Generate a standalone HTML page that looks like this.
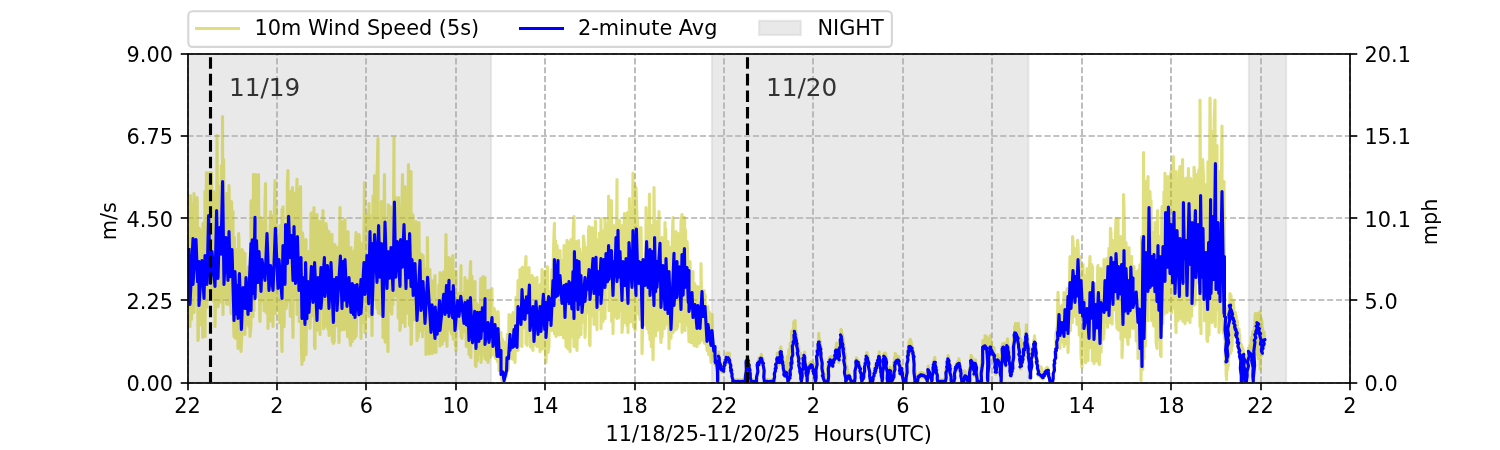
<!DOCTYPE html>
<html lang="en"><head><meta charset="utf-8"><title>10m Wind Speed</title>
<style>html,body{margin:0;padding:0;background:#fff;}body{width:1500px;height:450px;overflow:hidden;}svg text{font-family:"DejaVu Sans", "Liberation Sans", sans-serif;}</style>
</head><body>
<svg width="1500" height="450" viewBox="0 0 1500 450" style="display:block;will-change:transform" font-family='"DejaVu Sans", "Liberation Sans", sans-serif' font-size="20.833px">
<rect x="0" y="0" width="1500" height="450" fill="#fff"/>
<clipPath id="ax"><rect x="187.5" y="54.0" width="1162.5" height="328.5"/></clipPath>
<g clip-path="url(#ax)">
<rect x="187.5" y="54.0" width="303.5" height="328.5" fill="#d3d3d3" fill-opacity="0.5" stroke="#d3d3d3" stroke-opacity="0.5" stroke-width="2.08"/>
<rect x="711.9" y="54.0" width="316.5000000000001" height="328.5" fill="#d3d3d3" fill-opacity="0.5" stroke="#d3d3d3" stroke-opacity="0.5" stroke-width="2.08"/>
<rect x="1248.9" y="54.0" width="37.19999999999982" height="328.5" fill="#d3d3d3" fill-opacity="0.5" stroke="#d3d3d3" stroke-opacity="0.5" stroke-width="2.08"/>
</g>
<g stroke="#b0b0b0" stroke-width="1.667" stroke-dasharray="6.167 2.667" fill="none">
<path d="M188 382.5V54.0"/>
<path d="M277 382.5V54.0"/>
<path d="M366 382.5V54.0"/>
<path d="M456 382.5V54.0"/>
<path d="M545 382.5V54.0"/>
<path d="M635 382.5V54.0"/>
<path d="M724 382.5V54.0"/>
<path d="M813 382.5V54.0"/>
<path d="M903 382.5V54.0"/>
<path d="M992 382.5V54.0"/>
<path d="M1082 382.5V54.0"/>
<path d="M1171 382.5V54.0"/>
<path d="M1261 382.5V54.0"/>
<path d="M1350 382.5V54.0"/>
<path d="M187.5 383H1350.0"/>
<path d="M187.5 300H1350.0"/>
<path d="M187.5 218H1350.0"/>
<path d="M187.5 136H1350.0"/>
<path d="M187.5 54H1350.0"/>
</g>
<g clip-path="url(#ax)" fill="none" stroke-linejoin="round" stroke-linecap="square" stroke-width="3.125">
<path stroke="#bfbf00" stroke-opacity="0.5" d="M186.0 223.0L187.1 305.2 188.4 252.0 189.0 203.6 189.5 310.3 190.0 195.6 190.0 326.4 190.5 195.8 191.6 319.3 192.6 204.0 193.7 311.1 194.0 193.6 194.0 312.4 194.8 220.4 195.9 294.7 197.0 197.6 197.2 200.3 198.0 340.4 198.3 337.8 199.2 228.2 200.0 231.6 200.3 324.7 201.6 243.2 202.7 337.3 203.0 223.6 203.4 261.6 204.5 312.0 205.0 191.6 205.0 336.4 205.8 224.4 206.5 172.6 206.9 307.2 208.0 173.1 208.0 290.4 208.0 212.9 209.1 282.0 209.8 172.6 210.4 207.8 211.5 290.4 211.5 172.6 212.0 290.4 212.3 210.9 213.4 301.1 213.5 191.6 214.7 229.0 215.0 326.4 215.8 290.8 216.9 183.3 217.0 135.6 218.0 306.8 219.0 300.4 219.1 213.6 219.5 186.6 220.2 301.9 221.3 165.8 222.4 282.0 222.5 116.6 223.0 314.4 223.6 159.6 224.7 296.7 225.5 222.4 226.0 193.6 226.6 303.9 227.8 193.4 228.0 304.4 228.9 295.9 229.0 185.6 229.9 240.6 231.0 313.5 231.5 201.6 232.0 230.1 233.0 211.6 233.1 307.9 234.0 336.4 234.3 237.2 235.4 338.3 236.0 249.6 236.8 286.0 237.9 331.1 238.0 348.4 238.6 233.6 238.9 239.1 240.0 338.7 240.8 263.1 241.0 351.4 241.9 332.9 242.0 249.6 243.2 252.3 244.3 334.0 245.0 253.6 245.0 334.4 245.4 289.0 246.5 324.2 247.6 277.3 248.6 266.6 248.7 326.3 249.9 266.1 250.0 336.4 251.0 325.0 251.0 201.6 251.9 200.5 253.0 316.8 253.5 174.6 254.0 310.4 254.4 218.7 255.0 174.6 255.5 278.2 256.4 211.9 256.8 175.1 257.5 296.5 258.5 174.6 258.7 209.8 259.8 319.3 260.0 321.4 260.9 258.4 261.0 217.6 262.0 301.2 262.9 221.7 264.0 308.3 264.0 310.4 265.0 205.8 265.5 183.6 266.1 312.4 267.4 232.8 268.0 328.4 268.5 303.5 269.7 249.6 270.5 211.6 270.8 321.0 271.9 215.7 273.0 326.4 273.0 323.5 274.1 225.0 275.0 180.6 275.2 313.5 276.0 206.7 277.1 308.0 278.0 304.4 278.6 234.6 279.7 322.7 280.0 225.6 280.7 255.2 281.8 346.6 282.0 209.6 282.0 351.4 283.0 206.8 284.1 326.6 285.0 231.4 286.1 308.5 287.0 300.4 287.4 181.9 288.0 170.6 288.5 300.3 289.2 236.9 290.3 316.2 290.5 191.6 291.4 209.1 292.5 187.6 292.5 311.5 293.0 337.4 293.6 207.7 294.5 193.6 294.7 296.6 295.9 223.3 297.0 179.2 297.0 314.4 297.0 311.7 298.1 208.6 299.0 189.6 299.2 321.5 300.3 231.2 300.5 186.6 301.4 346.1 302.0 364.4 302.6 233.1 303.0 239.6 303.7 359.9 304.6 262.0 305.7 354.7 306.0 239.6 306.0 354.4 307.0 264.9 308.0 251.6 308.1 321.4 309.1 277.1 310.0 328.4 310.2 322.7 311.0 213.6 311.5 213.0 312.6 315.5 313.4 226.8 314.0 207.6 314.5 345.8 315.0 348.4 315.7 241.9 316.8 330.2 317.0 214.6 318.2 239.7 319.3 312.7 320.0 221.6 320.0 334.4 320.2 222.0 321.3 309.1 322.5 237.1 323.0 210.6 323.6 328.6 324.7 224.1 325.0 326.4 325.8 320.4 326.0 223.6 326.8 229.9 327.9 329.2 328.9 269.8 329.0 231.6 329.0 335.4 330.0 320.9 331.2 238.0 332.0 234.6 332.3 341.3 333.2 253.0 333.4 343.4 334.3 341.4 335.0 244.6 335.7 274.1 336.8 325.8 337.0 247.6 338.0 265.4 339.0 342.4 339.1 335.2 340.0 207.6 340.1 232.7 341.2 329.9 342.0 256.0 343.0 221.6 343.1 303.8 344.0 329.4 344.3 235.9 345.0 219.6 345.4 329.2 346.5 249.6 347.6 336.6 348.0 231.6 348.6 269.6 349.7 337.8 350.6 345.4 351.0 247.6 351.1 272.0 352.2 341.5 353.0 251.6 353.3 270.6 354.4 338.6 355.3 248.5 356.0 232.6 356.0 336.4 356.4 327.6 357.7 253.1 358.8 312.3 359.0 234.6 359.9 248.6 361.0 338.4 361.0 329.5 361.9 270.3 362.0 243.6 363.0 322.8 364.3 203.3 364.5 182.6 365.0 332.4 365.4 326.9 366.6 214.7 367.7 311.0 368.5 236.4 369.0 203.6 369.0 316.4 369.6 302.5 370.8 216.1 371.9 321.4 372.0 335.4 373.1 195.8 374.2 297.1 374.5 175.6 375.2 225.1 376.2 181.6 376.3 300.7 377.0 308.4 377.2 172.9 378.0 138.6 378.3 313.1 379.7 227.7 380.8 314.3 381.5 201.6 381.9 240.6 383.0 327.7 383.0 337.4 384.1 200.8 384.5 174.6 385.2 341.9 386.3 235.5 387.4 333.9 388.0 351.4 388.3 204.7 389.0 207.6 389.4 311.1 390.7 206.8 391.8 314.1 392.9 219.1 393.0 304.4 394.0 137.6 394.0 294.7 395.2 196.7 396.3 296.4 397.1 210.1 398.2 318.0 398.5 197.6 399.2 227.1 400.0 330.4 400.3 327.4 401.7 219.9 402.5 174.6 402.8 322.5 403.7 210.3 404.8 315.4 405.0 186.6 405.0 326.4 406.0 200.0 407.1 313.0 408.4 171.8 408.5 164.6 409.5 325.3 410.4 182.2 411.0 171.6 411.0 344.4 411.5 343.6 412.5 214.5 413.0 215.6 413.6 320.0 414.8 234.7 415.9 313.6 416.0 221.6 417.0 340.4 417.1 275.1 418.2 337.2 419.0 222.6 419.0 233.5 420.1 330.9 421.0 330.4 421.4 254.1 422.5 336.7 423.0 255.6 423.5 263.3 424.6 328.8 425.9 268.9 426.0 354.4 427.0 329.0 427.4 237.6 428.1 292.2 429.2 353.9 430.0 269.6 430.2 301.4 431.3 351.1 432.0 353.4 432.3 280.8 433.4 352.3 434.6 279.9 435.0 275.6 435.7 347.9 436.0 352.4 436.7 303.3 437.8 332.2 438.9 284.9 440.0 345.9 440.0 272.6 441.0 344.4 441.1 291.8 442.2 344.3 443.0 275.6 443.4 272.1 444.5 340.1 445.4 281.7 446.0 234.6 446.5 338.4 447.0 346.4 447.9 258.3 449.0 257.6 449.0 329.0 450.0 269.9 451.1 332.4 452.0 334.4 452.1 259.1 453.0 255.6 453.2 338.9 454.2 272.1 455.3 345.1 456.0 271.6 456.0 350.4 456.7 296.9 457.8 325.0 458.7 293.4 459.8 328.6 460.9 276.2 461.0 265.6 461.0 336.4 462.0 338.3 463.1 292.7 464.2 331.4 465.0 277.6 465.2 286.7 466.3 346.5 467.8 280.8 468.9 340.4 469.0 354.4 469.7 283.9 470.6 261.6 470.8 357.5 471.9 275.8 473.0 343.8 474.3 286.3 475.0 281.6 475.4 364.9 476.0 366.4 476.4 303.5 477.5 360.4 478.5 305.3 479.6 353.5 480.8 278.5 481.0 362.4 481.9 353.7 483.0 276.6 483.2 298.7 484.3 350.5 485.0 277.6 485.0 348.4 485.0 358.4 485.2 305.0 486.3 359.7 487.5 298.1 488.0 290.6 488.0 362.4 488.6 359.7 489.4 290.3 490.5 357.3 491.9 305.4 492.0 288.6 492.0 354.4 493.0 354.7 494.1 308.3 495.0 312.6 495.2 357.4 496.0 358.4 496.3 323.2 497.4 361.1 498.0 311.6 498.5 320.4 499.0 370.4 499.6 370.6 500.5 340.0 501.0 332.6 501.6 375.1 502.0 380.4 502.6 339.2 503.7 381.3 504.0 382.4 505.0 342.6 505.0 380.4 505.0 348.1 506.1 376.7 507.3 334.4 508.0 370.4 508.4 367.3 509.0 314.6 509.3 325.9 510.4 353.7 511.0 358.4 511.5 315.2 512.6 359.2 513.0 312.6 513.8 330.2 514.9 359.6 515.0 362.4 516.1 297.3 517.2 343.2 518.0 280.6 518.0 350.4 518.4 284.0 519.5 345.6 520.0 269.6 520.3 273.9 521.4 330.3 522.0 267.6 522.0 346.4 522.5 267.3 523.6 327.6 524.9 272.3 526.0 256.6 526.0 343.3 527.0 345.4 527.1 287.4 528.2 334.5 529.0 267.6 529.3 289.6 530.4 346.9 531.6 277.4 532.0 275.6 532.7 349.8 533.0 350.4 533.8 277.9 534.9 344.8 535.9 282.9 537.0 277.6 537.0 346.4 537.0 339.7 538.1 297.8 539.2 332.1 540.0 351.4 540.2 284.6 541.3 349.7 542.0 269.6 542.5 301.4 543.0 348.4 543.6 340.5 544.5 291.7 545.0 271.6 545.6 355.4 546.0 362.4 546.9 287.7 547.4 266.6 548.0 352.5 549.0 346.4 549.1 291.3 550.2 321.7 551.3 288.1 552.0 269.6 552.0 330.4 552.4 322.1 553.4 252.7 554.4 223.2 554.5 333.7 555.6 240.7 556.0 336.4 556.7 315.5 557.0 245.6 557.8 258.4 558.9 335.0 559.8 263.3 560.0 250.6 560.9 334.3 561.0 334.4 562.0 261.6 562.3 260.7 563.4 337.6 564.0 245.6 564.4 257.7 565.5 320.9 566.0 346.4 566.6 265.4 567.0 240.2 567.7 348.5 568.8 243.5 569.9 326.3 570.0 241.6 570.0 351.4 571.1 239.5 572.2 336.9 573.2 230.1 574.0 216.6 574.0 346.4 574.3 346.6 575.5 243.4 576.0 241.6 576.6 340.5 577.0 350.4 577.8 286.1 578.6 240.6 578.9 337.3 579.8 248.9 580.9 328.3 581.0 257.6 581.0 334.4 581.9 253.5 583.0 321.9 583.4 236.0 584.3 243.6 585.0 337.4 585.4 326.5 586.0 247.6 586.6 257.5 587.7 313.0 588.5 230.4 589.0 226.6 589.6 343.8 590.0 345.4 590.9 243.0 592.0 315.8 592.0 227.6 593.1 229.0 594.0 324.4 594.2 320.2 595.4 227.7 595.4 221.0 596.5 312.2 597.0 329.4 597.2 264.9 598.0 239.6 598.3 309.4 599.4 233.0 600.5 300.2 601.0 218.6 601.0 328.4 602.0 242.0 603.1 321.2 603.8 230.5 604.9 313.0 605.0 218.6 605.0 318.4 606.1 224.5 607.2 287.9 608.4 235.1 608.6 196.0 609.0 310.4 609.5 285.5 610.6 202.7 611.4 200.6 611.7 321.2 612.9 262.1 613.0 333.4 614.0 225.6 614.0 304.8 614.9 257.3 616.0 316.9 617.0 179.6 617.0 318.4 617.4 219.2 618.5 317.8 619.3 220.2 619.4 221.6 620.4 310.9 621.7 251.0 622.0 225.6 622.0 332.4 622.8 323.9 623.6 240.6 624.4 213.6 624.7 317.6 625.0 322.4 626.0 247.7 627.1 325.4 627.4 212.6 628.0 332.4 628.0 213.8 629.1 322.6 629.4 198.6 630.3 249.0 631.4 321.5 632.0 320.4 632.5 232.7 633.0 173.2 633.6 326.9 634.9 185.9 635.0 330.4 636.0 305.2 636.0 187.6 637.0 217.3 638.0 229.6 638.1 310.5 639.0 314.4 639.0 229.1 640.1 319.5 641.0 227.6 641.6 267.6 642.0 353.4 642.7 326.2 643.8 264.8 644.9 324.5 645.0 324.4 646.0 260.7 646.0 207.6 647.1 328.8 647.9 230.2 649.0 333.5 649.4 194.0 650.0 339.4 650.2 238.9 651.3 346.5 651.4 225.6 652.3 249.9 653.0 359.4 653.4 331.8 654.0 187.6 654.4 224.4 655.5 336.0 656.6 221.6 656.6 268.2 657.0 330.4 657.7 329.3 659.0 211.6 659.0 238.2 660.1 327.2 661.0 342.4 661.0 240.8 662.0 237.6 662.1 336.9 663.3 249.2 664.4 328.6 665.0 222.6 665.0 326.4 665.7 229.1 666.8 323.4 667.8 268.6 668.0 241.6 668.9 331.8 669.0 348.4 669.9 272.6 670.0 247.6 671.0 338.2 672.3 240.8 673.0 217.6 673.0 332.4 673.4 319.8 674.3 262.7 675.4 330.0 676.0 231.6 676.6 260.6 677.0 328.4 677.7 324.8 678.6 233.6 678.7 241.4 679.8 321.3 681.0 221.2 682.0 214.6 682.0 332.4 682.1 330.3 683.3 218.5 684.4 327.2 684.6 217.6 685.0 330.4 685.4 229.5 686.5 324.8 687.0 241.6 687.6 252.2 688.7 332.2 689.0 341.4 689.9 271.9 690.0 261.6 691.0 342.6 692.1 299.0 693.0 271.6 693.2 335.2 694.0 345.4 694.1 283.0 695.0 284.6 695.2 345.7 696.3 308.7 697.0 346.4 697.4 330.9 698.0 286.6 698.4 299.3 699.5 343.2 701.0 291.6 701.0 263.6 702.1 340.2 703.0 340.4 703.2 291.2 704.0 290.6 704.3 343.1 705.1 294.9 706.2 335.4 707.0 350.4 707.6 319.8 708.0 306.6 708.7 354.4 709.5 312.2 710.6 356.3 711.0 362.4 711.8 315.3 712.0 314.6 712.9 351.8 715.0 364.4 715.0 359.0 715.5 363.7 715.9 356.3 716.4 364.4 716.8 357.3 716.9 364.1 717.3 368.4 717.6 382.4 717.7 377.0 718.2 371.2 718.6 351.9 718.7 358.4 719.1 355.9 719.5 365.4 720.0 362.0 720.4 370.8 720.4 364.8 720.9 371.5 721.3 367.5 721.8 372.1 722.2 366.8 722.7 371.4 723.1 366.9 723.1 372.0 723.6 364.7 724.0 368.9 724.5 362.3 724.9 365.3 724.9 361.1 725.4 364.6 725.8 358.7 726.3 363.6 726.7 354.1 726.7 362.8 727.2 353.1 727.6 362.4 728.1 355.0 728.5 361.4 729.0 353.0 729.3 360.7 729.4 353.8 729.9 365.6 730.3 362.5 730.8 369.6 731.1 368.0 731.2 373.4 731.7 371.1 732.1 377.7 732.6 377.4 732.9 382.1 733.0 380.4 733.5 382.3 733.9 380.6 734.4 382.4 734.8 380.3 735.3 382.2 735.7 379.8 736.2 382.3 736.6 380.1 737.1 382.3 737.5 379.7 738.0 381.9 738.4 380.7 738.9 382.5 739.3 380.6 739.8 382.3 740.2 379.7 740.7 382.1 741.1 379.9 741.6 382.2 742.0 380.4 742.5 382.3 742.9 379.7 743.4 382.1 743.8 380.2 744.3 382.0 744.7 379.8 745.2 382.1 745.3 380.5 745.6 378.9 746.1 366.6 746.5 366.1 746.6 356.2 747.0 364.9 747.4 356.0 747.9 364.5 748.0 357.2 748.3 365.5 748.8 361.0 749.2 370.1 749.7 366.2 749.8 372.1 750.1 370.5 750.6 378.7 751.0 379.7 751.0 382.3 751.5 380.6 751.9 382.4 752.4 380.0 752.8 382.2 753.3 379.7 753.7 381.9 754.2 380.0 754.6 382.5 755.1 380.3 755.5 382.1 756.0 380.1 756.4 382.0 756.5 379.7 756.9 378.8 757.3 369.1 757.8 367.1 757.8 361.7 758.2 366.8 758.7 358.9 759.1 365.3 759.6 357.3 759.6 363.4 760.0 357.5 760.5 362.3 760.9 356.1 761.3 362.1 761.4 354.3 761.8 362.8 762.3 357.2 762.7 365.5 763.1 359.1 763.2 365.9 763.6 366.7 764.1 378.8 764.4 376.1 764.5 382.0 765.0 378.8 765.4 382.1 765.9 379.8 766.3 382.4 766.8 380.1 767.2 382.2 767.7 379.6 768.1 382.0 768.6 379.8 769.0 382.1 769.5 380.2 769.9 382.4 770.4 380.4 770.8 382.0 771.3 380.0 771.7 382.0 772.2 379.7 772.6 382.5 773.1 380.3 773.5 382.4 773.8 380.1 774.0 381.4 774.4 374.4 774.9 375.2 775.3 368.1 775.6 371.5 775.8 363.4 776.2 366.8 776.7 359.5 777.1 361.5 777.3 353.0 777.6 362.1 778.0 354.4 778.5 364.0 778.9 356.6 779.1 365.1 779.4 353.8 779.8 361.5 780.3 348.3 780.7 356.8 780.9 346.7 781.2 356.9 781.6 353.1 782.1 361.4 782.5 356.3 782.7 365.1 783.0 358.0 783.4 370.2 783.9 362.8 784.3 376.5 784.4 371.6 784.8 376.8 785.2 370.1 785.7 374.8 786.1 364.5 786.2 373.6 786.6 361.2 787.0 378.1 787.5 356.4 787.9 382.3 788.0 368.2 788.4 382.1 788.8 349.8 789.3 380.0 789.7 353.5 789.8 378.7 790.2 343.3 790.6 373.5 791.1 349.1 791.5 367.2 791.6 331.3 792.0 362.5 792.4 330.6 792.9 350.3 793.3 328.0 793.3 346.8 793.8 321.8 794.2 340.2 794.7 321.4 794.8 338.1 795.1 320.5 795.6 343.3 796.0 331.3 796.5 347.5 796.5 334.9 796.9 352.3 797.4 342.2 797.8 358.4 798.3 349.1 798.7 364.4 798.7 346.0 799.2 367.1 799.6 352.8 800.1 373.6 800.5 353.3 801.0 379.9 801.3 360.0 801.4 382.2 801.9 361.1 802.3 373.7 802.8 360.3 803.1 365.5 803.2 357.3 803.7 363.8 804.1 354.5 804.4 359.5 804.6 352.1 805.0 365.0 805.5 361.1 805.8 371.2 805.9 366.2 806.4 375.9 806.8 372.9 807.2 381.7 807.3 373.8 807.7 377.9 808.2 368.2 808.4 371.4 808.6 364.7 809.1 369.7 809.5 363.3 810.0 369.0 810.2 363.8 810.4 369.8 810.9 361.8 811.3 367.9 811.8 362.1 812.0 368.2 812.2 363.4 812.7 370.6 813.1 366.1 813.6 373.8 813.8 369.7 814.0 375.6 814.5 366.1 814.9 378.9 815.4 363.8 815.6 382.1 815.8 364.5 816.3 372.7 816.7 352.7 817.2 360.1 817.3 347.9 817.6 356.7 818.1 341.5 818.5 350.0 818.8 333.2 819.0 347.1 819.4 339.1 819.9 351.4 820.3 341.3 820.5 354.1 820.8 346.0 821.2 360.7 821.7 360.4 822.1 371.5 822.6 368.6 822.7 376.6 823.0 366.5 823.5 379.4 823.9 374.6 824.4 382.1 824.4 374.6 824.8 382.2 825.3 380.0 825.7 382.5 826.2 374.6 826.6 382.5 827.1 373.9 827.5 382.1 828.0 362.6 828.0 382.1 828.4 364.7 828.9 371.9 829.2 359.2 829.3 365.6 829.8 357.2 830.2 364.1 830.7 357.4 830.7 362.7 831.1 356.6 831.6 366.0 832.0 358.9 832.4 366.9 832.5 362.0 832.9 365.7 833.4 358.3 833.8 364.0 834.2 355.2 834.3 362.2 834.7 352.2 835.2 359.5 835.6 348.2 836.1 355.5 836.5 343.0 836.5 355.1 837.0 344.9 837.4 358.5 837.9 352.6 838.3 360.9 838.7 351.3 838.8 362.4 839.2 343.5 839.7 354.3 840.1 341.0 840.6 346.0 841.0 329.4 841.0 342.8 841.5 330.1 841.9 346.5 842.4 334.4 842.8 352.2 843.1 337.6 843.3 354.2 843.7 341.7 844.2 364.6 844.6 347.0 845.1 374.2 845.5 354.1 845.8 382.3 846.0 368.2 846.4 381.1 846.9 366.2 847.3 379.7 847.6 369.7 847.8 379.0 848.2 373.0 848.7 377.4 849.1 373.8 849.3 376.9 849.6 374.3 850.0 379.1 850.5 377.2 850.9 381.4 851.1 380.4 851.4 382.5 851.8 379.8 852.3 382.3 852.7 380.3 853.2 382.5 853.6 380.7 854.1 382.4 854.5 379.1 854.7 382.1 855.0 373.7 855.4 373.5 855.9 360.2 856.1 365.2 856.3 357.7 856.8 364.2 857.2 359.5 857.7 365.6 857.9 360.0 858.1 366.4 858.6 362.2 859.0 367.3 859.5 362.8 859.9 369.9 860.0 365.9 860.4 372.9 860.8 372.5 861.3 378.9 861.7 379.0 861.8 382.3 862.2 379.3 862.6 380.3 863.1 376.3 863.5 378.8 863.6 373.7 864.0 376.5 864.4 367.2 864.9 369.6 865.3 358.9 865.3 366.7 865.8 355.9 866.2 362.7 866.7 352.9 866.8 360.6 867.1 352.5 867.6 362.4 868.0 355.8 868.5 366.3 868.5 360.8 868.9 368.3 869.4 369.7 869.8 378.2 870.3 377.3 870.3 382.4 870.7 378.0 871.2 382.3 871.6 380.6 872.1 382.0 872.4 379.9 872.5 382.5 873.0 378.3 873.4 378.3 873.9 373.3 874.3 375.9 874.8 369.1 875.1 372.3 875.2 367.0 875.7 371.4 876.1 363.4 876.6 369.1 876.9 360.4 877.0 367.9 877.5 360.9 877.9 365.3 878.4 356.3 878.8 361.0 879.2 351.7 879.3 360.7 879.7 356.2 880.2 367.5 880.6 366.3 881.0 373.8 881.1 368.4 881.5 376.8 882.0 370.0 882.2 382.2 882.4 365.2 882.9 374.9 883.3 360.8 883.8 363.3 884.0 353.4 884.2 361.2 884.7 354.9 885.1 361.8 885.6 353.0 885.8 362.1 886.0 355.6 886.5 368.8 886.9 367.2 887.4 380.2 887.6 371.4 887.8 382.0 888.3 375.3 888.7 382.4 889.2 380.1 889.3 382.1 889.6 375.1 890.0 371.5 890.1 367.0 890.5 375.1 891.0 374.4 891.4 379.9 891.8 376.2 891.9 382.3 892.3 370.7 892.8 380.2 893.2 368.5 893.6 379.3 893.7 362.6 894.1 375.1 894.6 357.2 895.0 368.0 895.3 353.4 895.5 365.2 895.9 354.6 896.4 364.9 896.8 355.7 897.1 363.0 897.3 356.4 897.7 364.6 898.2 358.8 898.6 364.0 898.9 356.6 899.1 364.9 899.5 363.0 900.0 372.0 900.3 371.1 900.4 374.6 900.9 368.2 901.3 371.6 901.6 364.8 901.8 372.4 902.2 370.9 902.7 378.5 903.1 377.8 903.3 382.5 903.6 380.3 904.0 382.5 904.5 378.4 904.9 382.4 905.4 372.8 905.8 382.0 906.0 370.8 906.3 379.2 906.7 366.6 907.2 367.0 907.6 353.2 907.8 360.5 908.1 349.1 908.5 357.0 909.0 342.3 909.4 349.9 909.6 340.4 909.9 351.5 910.3 339.2 910.8 350.9 911.2 341.5 911.7 353.4 911.7 345.0 912.1 352.4 912.6 348.7 913.0 356.8 913.5 351.0 913.5 360.3 913.9 360.3 914.4 374.3 914.8 370.9 914.9 382.5 915.3 370.6 915.7 382.2 916.2 376.5 916.6 382.2 917.1 380.4 917.5 382.1 917.6 380.1 918.0 380.2 918.4 375.0 918.4 377.6 918.9 375.0 919.3 378.1 919.8 373.1 920.2 377.3 920.7 372.4 921.1 377.0 921.1 372.9 921.6 377.1 922.0 372.3 922.5 376.6 922.9 372.7 923.4 377.6 923.8 374.6 923.8 377.1 924.3 373.6 924.7 378.2 925.2 373.9 925.6 377.5 925.6 375.2 926.1 379.6 926.5 377.1 927.0 381.5 927.3 374.4 927.4 381.6 927.9 368.1 928.2 372.3 928.3 366.1 928.8 372.3 929.2 370.2 929.7 374.7 930.0 372.0 930.1 376.5 930.6 373.7 931.0 378.9 931.5 378.6 931.8 382.3 931.9 376.5 932.4 376.9 932.8 370.5 933.3 370.6 933.6 361.7 933.7 367.8 934.2 359.6 934.6 365.9 934.8 357.2 935.1 367.3 935.5 363.1 936.0 370.9 936.2 367.6 936.4 374.3 936.9 369.5 937.3 380.1 937.6 378.0 937.8 382.3 938.2 377.4 938.7 382.3 939.1 380.7 939.6 382.0 940.0 380.6 940.5 382.4 940.9 379.8 941.4 382.0 941.8 380.4 942.3 382.0 942.7 379.9 943.2 382.4 943.6 379.8 944.1 382.0 944.5 378.7 945.0 382.4 945.4 375.5 945.5 382.4 945.9 369.0 946.3 374.8 946.8 362.4 946.9 369.8 947.2 359.8 947.7 366.0 948.1 355.5 948.3 362.9 948.6 356.8 949.0 366.2 949.5 361.3 949.7 369.1 949.9 364.3 950.4 374.6 950.8 374.5 951.3 381.8 951.3 379.4 951.7 382.1 952.2 379.7 952.6 382.1 953.1 380.0 953.5 382.2 954.0 379.7 954.0 382.3 954.4 376.2 954.9 375.2 955.3 367.5 955.4 371.4 955.8 365.8 956.2 369.8 956.7 363.7 957.1 367.9 957.2 362.0 957.6 367.0 958.0 362.3 958.5 366.1 958.9 358.9 959.0 366.2 959.4 360.6 959.8 369.4 960.3 367.7 960.4 373.0 960.7 370.6 961.2 377.6 961.6 377.7 961.8 382.0 962.1 380.0 962.5 382.4 963.0 378.8 963.4 382.1 963.8 374.4 963.9 382.3 964.3 370.9 964.8 378.4 965.0 371.2 965.2 377.1 965.7 374.2 966.1 377.7 966.4 374.1 966.6 378.9 967.0 377.3 967.5 380.8 967.9 377.4 967.9 382.0 968.4 375.7 968.8 382.2 969.3 369.4 969.6 382.4 969.7 367.5 970.2 375.3 970.6 360.3 970.9 363.8 971.1 355.4 971.5 364.9 972.0 357.3 972.4 365.5 972.7 360.4 972.9 367.0 973.3 364.0 973.8 371.9 974.2 368.0 974.4 376.0 974.7 368.2 975.1 369.7 975.6 359.8 975.7 366.8 976.0 365.4 976.5 374.3 976.9 375.7 977.1 382.1 977.4 378.3 977.8 382.0 978.3 377.0 978.7 382.4 979.2 374.3 979.6 382.5 980.1 371.0 980.5 382.4 981.0 367.3 981.4 382.1 981.6 360.0 981.9 374.5 982.3 354.8 982.8 352.8 982.8 340.5 983.2 353.3 983.7 342.6 984.1 350.2 984.6 341.2 985.0 350.0 985.1 335.6 985.5 350.3 985.9 338.8 986.4 351.9 986.8 336.8 986.9 351.8 987.3 338.9 987.7 379.4 987.8 353.4 988.2 375.9 988.6 346.8 989.1 361.5 989.2 342.5 989.5 355.4 990.0 338.1 990.4 352.9 990.4 335.3 990.9 352.9 991.3 342.1 991.8 353.9 992.2 348.5 992.2 354.7 992.7 349.5 993.1 357.6 993.6 347.4 994.0 356.5 994.0 348.1 994.5 361.9 994.9 358.7 995.4 369.7 995.8 358.3 995.8 374.2 996.3 355.5 996.7 367.5 997.2 357.2 997.6 362.7 997.6 354.6 998.1 364.5 998.5 358.7 999.0 364.8 999.3 360.0 999.4 365.4 999.9 359.0 1000.3 375.4 1000.8 357.6 1001.1 382.4 1001.2 353.9 1001.7 370.0 1002.1 345.7 1002.4 351.6 1002.6 343.9 1003.0 353.4 1003.5 344.1 1003.9 351.2 1004.1 343.4 1004.4 354.8 1004.8 352.9 1005.3 364.6 1005.6 352.6 1005.7 366.8 1006.2 351.6 1006.6 357.8 1007.1 342.0 1007.3 350.5 1007.5 338.8 1008.0 354.5 1008.4 345.2 1008.8 357.7 1008.9 349.6 1009.3 364.2 1009.8 361.7 1010.2 373.6 1010.5 363.3 1010.7 376.7 1011.1 363.7 1011.6 374.8 1012.0 348.5 1012.5 370.6 1012.7 345.8 1012.9 365.8 1013.4 338.2 1013.8 352.6 1014.3 333.8 1014.4 341.0 1014.7 326.2 1015.2 337.3 1015.6 323.4 1015.9 336.2 1016.1 324.4 1016.5 341.6 1017.0 326.9 1017.4 343.1 1017.6 325.8 1017.9 343.5 1018.3 323.2 1018.8 353.7 1019.2 329.0 1019.4 357.9 1019.7 341.0 1020.1 364.4 1020.6 343.9 1020.7 369.1 1021.0 339.4 1021.5 367.0 1021.9 355.0 1022.4 363.7 1022.4 354.0 1022.8 361.1 1023.3 347.6 1023.7 357.1 1024.2 342.2 1024.2 353.9 1024.6 339.7 1025.1 348.7 1025.5 333.5 1026.0 343.3 1026.4 324.7 1026.5 340.6 1026.9 333.4 1027.3 348.8 1027.8 339.4 1028.2 357.1 1028.3 343.4 1028.7 361.9 1029.1 345.0 1029.6 370.3 1030.0 360.7 1030.4 379.2 1030.5 351.3 1030.9 374.1 1031.4 359.7 1031.8 363.6 1032.2 347.9 1032.3 357.8 1032.7 348.3 1033.2 354.0 1033.6 340.4 1034.1 350.8 1034.5 335.7 1034.9 348.1 1035.0 338.8 1035.4 352.2 1035.9 345.7 1036.3 359.7 1036.7 358.5 1036.8 364.3 1037.2 357.8 1037.7 371.2 1038.1 364.5 1038.4 375.7 1038.6 369.6 1039.0 375.3 1039.5 372.8 1039.9 376.9 1040.4 370.8 1040.8 377.6 1041.1 366.9 1041.3 377.9 1041.7 368.5 1042.2 378.7 1042.6 374.1 1042.9 379.2 1043.1 375.5 1043.5 378.3 1044.0 372.6 1044.4 376.1 1044.9 371.4 1045.3 374.3 1045.6 369.9 1045.8 373.8 1046.2 368.2 1046.7 373.0 1047.1 367.4 1047.6 373.2 1047.9 368.0 1048.0 373.6 1048.5 370.9 1048.9 377.7 1049.4 376.0 1049.8 381.3 1050.0 380.2 1050.3 382.4 1050.7 379.8 1051.2 382.1 1051.6 380.2 1052.1 382.4 1052.5 380.5 1052.7 382.2 1053.0 377.6 1053.4 375.6 1053.9 367.4 1054.3 367.4 1054.4 359.9 1054.8 363.0 1055.2 351.2 1055.7 357.6 1056.1 344.5 1056.2 354.3 1056.6 341.2 1057.0 346.2 1057.5 333.6 1057.9 340.3 1058.0 324.2 1055.9 334.1 1056.0 346.4 1057.0 345.0 1058.0 292.2 1058.1 295.2 1059.2 344.3 1060.0 348.4 1060.4 313.0 1061.0 306.6 1061.5 341.8 1062.5 304.9 1063.6 336.3 1064.0 292.6 1064.0 346.4 1064.7 308.4 1065.8 343.7 1067.0 297.5 1067.0 288.6 1068.0 352.4 1068.1 351.7 1069.3 295.2 1070.0 256.6 1070.0 268.6 1070.4 330.7 1071.2 277.2 1072.0 322.4 1072.3 322.5 1072.6 236.6 1073.8 255.6 1074.9 316.1 1075.0 248.6 1075.8 253.9 1076.9 324.3 1077.0 324.4 1077.6 240.2 1078.2 248.4 1079.3 335.0 1080.0 256.6 1080.0 263.0 1081.1 357.2 1082.0 367.4 1082.2 272.4 1083.0 264.6 1083.3 345.3 1084.4 275.6 1085.5 362.6 1087.0 271.7 1087.0 268.6 1088.0 360.4 1088.1 349.3 1089.0 276.7 1090.0 256.6 1090.1 347.5 1091.3 264.2 1092.4 266.6 1092.4 360.7 1093.5 301.6 1094.0 363.4 1094.6 354.3 1095.4 284.0 1096.5 361.0 1097.7 266.9 1098.0 265.6 1098.8 362.6 1099.4 364.4 1099.9 275.4 1101.0 268.6 1101.0 352.2 1102.2 269.7 1103.3 339.1 1104.0 259.6 1104.0 334.4 1104.5 261.4 1105.6 322.4 1106.4 269.4 1107.0 258.6 1107.5 327.3 1109.0 248.3 1110.0 322.4 1110.1 321.6 1110.4 228.2 1111.0 233.9 1112.1 324.1 1113.0 240.6 1113.1 262.2 1114.2 309.5 1115.5 235.7 1116.0 218.6 1116.6 319.8 1117.0 328.4 1117.5 246.5 1118.0 218.6 1118.6 330.1 1119.9 247.8 1120.6 236.6 1121.0 339.3 1122.0 243.3 1122.0 357.4 1123.1 327.7 1123.6 194.6 1124.2 218.7 1125.3 336.8 1126.0 242.6 1126.3 256.1 1127.4 338.4 1128.0 344.4 1128.5 261.1 1129.0 247.6 1129.6 337.0 1130.9 261.6 1131.6 256.6 1132.0 326.2 1133.0 328.4 1133.0 284.9 1134.0 266.6 1134.1 317.2 1135.2 271.8 1136.3 341.1 1137.5 274.1 1138.0 270.6 1138.0 358.4 1138.6 357.8 1139.8 264.8 1140.9 350.7 1141.0 380.4 1141.6 236.6 1141.7 278.6 1142.8 369.3 1143.6 152.6 1144.0 358.4 1144.2 229.3 1145.3 345.9 1146.0 181.6 1146.0 211.7 1147.1 303.7 1148.0 176.6 1148.0 320.4 1148.4 193.6 1149.5 288.7 1150.0 191.6 1150.5 225.3 1151.0 200.6 1151.6 320.4 1152.7 259.1 1153.0 232.6 1153.0 320.4 1153.8 326.0 1155.0 228.6 1155.0 222.6 1156.1 342.1 1157.0 348.4 1157.2 246.0 1157.6 210.6 1158.3 339.3 1159.4 263.4 1160.0 236.6 1160.5 354.7 1161.0 356.4 1161.7 226.4 1162.0 206.6 1162.8 323.6 1164.0 191.8 1164.0 314.4 1165.0 173.2 1165.1 297.0 1165.9 206.1 1166.4 179.6 1167.0 312.5 1168.0 176.6 1168.1 182.6 1169.2 284.0 1169.4 179.6 1170.0 310.4 1170.4 188.2 1171.0 171.6 1171.5 312.7 1172.6 190.5 1173.4 156.6 1173.7 308.3 1174.7 233.3 1175.8 326.1 1176.0 171.6 1176.0 332.4 1177.0 179.4 1178.0 179.6 1178.1 320.4 1179.3 172.6 1180.0 166.6 1180.0 318.4 1180.4 312.1 1181.6 190.8 1182.6 159.6 1182.7 321.1 1183.8 232.8 1184.9 316.1 1185.0 179.6 1185.0 323.4 1185.9 178.0 1187.0 320.2 1187.9 206.1 1188.4 168.6 1189.0 317.4 1190.0 322.4 1190.4 178.3 1191.0 180.6 1191.5 316.2 1192.5 200.8 1193.6 305.3 1194.0 167.2 1194.5 171.3 1195.0 304.4 1195.6 289.3 1197.0 208.1 1197.0 174.6 1198.1 282.1 1198.4 177.6 1198.9 169.9 1200.0 326.2 1200.0 100.0 1201.0 333.4 1201.3 181.0 1202.4 298.4 1202.6 159.6 1203.5 177.1 1204.6 320.7 1205.6 185.6 1205.8 184.8 1206.9 339.5 1207.6 341.4 1207.9 161.9 1209.0 334.9 1210.0 98.0 1210.2 115.7 1211.3 281.4 1212.0 322.4 1212.0 132.6 1212.4 131.6 1213.1 321.1 1214.2 119.8 1215.0 100.0 1215.3 326.5 1216.5 168.9 1217.0 145.6 1217.6 309.8 1218.8 190.6 1219.0 171.6 1219.0 332.4 1219.9 308.8 1221.0 209.4 1222.0 126.0 1222.1 287.0 1223.0 330.4 1223.5 333.4 1224.0 181.6 1224.5 338.4 1225.0 307.4 1225.4 364.3 1225.8 324.2 1226.2 376.4 1226.6 320.9 1226.6 379.4 1227.0 308.7 1227.4 369.8 1227.8 309.7 1228.2 366.3 1228.2 308.9 1228.6 357.9 1229.0 306.1 1229.4 339.7 1229.8 298.6 1230.0 293.6 1230.2 295.9 1230.6 353.3 1231.0 295.6 1231.4 351.0 1231.8 299.8 1232.2 346.0 1232.6 306.8 1233.0 334.3 1233.3 300.6 1233.4 337.1 1233.8 305.8 1234.2 333.8 1234.6 316.2 1235.0 334.4 1235.4 312.4 1235.8 335.9 1236.2 315.5 1236.6 337.4 1236.7 324.6 1237.0 342.2 1237.4 321.1 1237.8 347.4 1238.2 329.6 1238.6 352.3 1239.0 329.1 1239.4 356.5 1239.8 334.6 1240.0 359.4 1240.2 343.0 1240.6 370.2 1241.0 357.0 1241.3 382.1 1241.4 344.3 1241.8 382.3 1242.2 347.0 1242.2 382.5 1242.6 347.9 1243.0 365.2 1243.3 349.6 1243.4 359.5 1243.8 354.5 1244.2 368.4 1244.6 356.1 1245.0 377.1 1245.4 360.7 1245.5 382.2 1245.8 362.8 1246.2 382.3 1246.5 359.2 1246.6 381.5 1247.0 365.1 1247.4 373.3 1247.8 354.7 1248.2 364.7 1248.6 348.1 1249.0 348.1 1249.0 348.0 1249.4 357.0 1249.8 345.5 1250.2 358.1 1250.6 345.3 1251.0 359.7 1251.4 337.6 1251.8 360.1 1252.0 341.3 1252.2 364.6 1252.6 331.9 1253.0 377.5 1253.3 337.7 1253.4 379.8 1253.8 330.6 1254.2 354.5 1254.5 326.3 1254.6 346.4 1255.0 319.0 1255.4 313.6 1255.8 317.0 1256.2 345.9 1256.6 322.2 1257.0 352.4 1257.3 317.4 1257.4 354.8 1257.8 313.2 1258.2 358.5 1258.6 317.7 1259.0 348.7 1259.4 322.0 1259.8 350.1 1260.0 311.6 1260.2 369.2 1260.6 321.0 1261.0 353.8 1261.4 318.9 1261.8 355.6 1262.0 321.6 1262.2 355.1 1262.6 328.6 1263.0 349.5 1263.4 331.6 1263.8 348.3 1264.2 332.4 1264.4 345.1"/>
<path stroke="#0000ff" d="M189.0 249.6L190.0 304.4 193.0 238.6 193.0 284.4 196.0 239.6 197.6 281.8 199.0 261.6 199.0 305.4 202.0 260.6 204.0 298.4 205.0 255.6 207.0 284.4 208.6 215.6 210.5 283.2 212.0 251.6 215.0 286.4 216.6 210.6 218.0 278.4 219.4 227.6 220.9 254.1 222.6 181.6 224.0 284.4 226.0 237.6 228.0 280.4 229.0 231.6 230.2 276.6 232.0 249.6 234.0 320.4 235.0 271.6 236.4 314.0 237.4 285.6 238.0 318.4 239.4 273.6 241.4 329.4 243.0 287.6 245.0 308.4 246.0 277.6 248.0 314.4 251.0 243.6 251.0 310.4 252.2 239.7 253.5 293.5 255.0 217.2 255.0 298.4 256.5 240.6 258.0 282.4 259.0 251.6 261.0 291.4 262.0 259.6 265.0 280.4 267.0 233.6 269.0 290.4 270.6 265.6 273.0 290.4 275.4 228.2 278.0 288.4 279.0 259.6 282.0 298.4 283.0 245.6 285.0 284.4 285.6 224.6 287.4 263.5 288.6 216.2 290.1 257.4 291.4 235.6 293.0 280.4 294.0 226.6 295.5 283.4 297.4 236.6 299.0 290.4 301.0 257.6 302.0 318.4 303.0 277.6 305.0 324.4 305.6 262.6 306.9 318.7 308.0 281.6 309.0 312.4 311.4 266.6 313.0 302.4 314.6 262.6 317.0 320.4 318.0 277.6 319.2 307.5 321.0 267.6 321.0 308.4 324.4 257.6 325.0 296.4 327.4 265.6 329.0 308.4 331.0 262.6 333.4 322.4 334.0 279.6 335.2 301.6 336.4 277.6 337.0 310.4 340.4 256.0 342.0 308.4 343.0 261.6 344.1 300.3 345.0 259.6 347.0 306.4 349.0 277.6 351.0 312.4 352.3 283.5 353.4 314.4 355.0 285.6 355.0 317.4 357.1 284.6 358.9 314.8 361.0 279.6 361.0 313.4 364.0 262.6 365.0 294.4 367.0 255.6 368.7 303.6 370.0 231.6 370.9 283.9 372.0 243.6 372.0 314.4 374.6 234.6 377.0 282.4 378.6 225.6 380.0 277.1 381.4 243.6 383.0 316.4 385.0 222.0 387.0 288.4 388.0 251.6 389.6 278.2 391.0 247.6 393.0 290.4 394.4 202.0 395.7 277.1 397.4 241.6 400.0 286.4 400.6 239.6 402.3 267.3 404.0 224.6 406.0 288.4 407.0 241.6 408.2 277.7 409.6 233.6 411.0 286.4 412.0 259.6 413.2 295.4 415.0 263.6 417.0 320.4 420.0 260.6 421.0 310.4 423.0 281.6 425.0 323.4 427.6 277.2 431.0 332.4 432.0 304.9 435.0 338.4 435.2 307.1 437.2 334.2 439.5 300.6 440.0 330.4 443.7 294.3 445.0 314.4 446.5 285.6 447.9 312.7 449.0 280.4 449.0 316.4 451.6 292.1 452.7 317.9 453.3 285.6 455.0 330.4 457.6 300.6 459.0 316.4 460.8 296.4 464.0 323.4 465.0 302.6 466.4 324.9 467.8 300.7 469.0 340.4 470.4 297.5 472.5 342.6 474.7 311.3 476.0 348.4 477.3 312.2 478.9 341.4 480.0 312.4 481.0 338.4 482.4 307.8 483.9 331.0 485.0 298.6 485.0 340.4 485.0 344.4 488.0 322.6 489.0 342.4 492.0 317.6 493.0 346.4 495.0 324.6 497.0 356.4 498.0 328.6 499.3 356.8 501.0 350.6 501.0 374.4 502.8 372.0 504.0 380.4 504.0 380.6 506.6 370.4 507.0 357.6 508.5 358.7 510.0 334.6 510.0 350.4 511.1 339.6 512.7 347.3 514.0 329.6 514.0 346.4 515.7 325.7 517.0 347.4 518.0 306.6 521.0 324.4 522.0 289.6 523.5 318.8 525.0 300.6 525.0 319.4 526.4 296.8 527.7 312.8 529.4 285.0 530.0 330.4 533.0 306.6 534.0 341.4 536.0 301.6 538.0 334.4 540.0 306.6 541.0 331.4 543.4 294.2 544.7 329.4 546.0 302.6 546.0 337.4 548.6 296.6 549.7 319.7 551.0 298.6 551.0 325.4 553.0 280.6 554.0 305.4 554.4 259.6 555.9 296.9 558.0 260.6 558.0 295.4 560.0 275.6 562.0 303.4 564.0 285.6 565.0 317.4 566.1 284.4 567.9 301.4 569.0 281.6 569.0 303.4 570.3 283.0 571.9 309.0 573.0 271.6 574.0 318.4 574.4 251.6 575.8 300.2 577.0 260.6 578.0 309.4 579.0 261.6 579.9 304.1 581.0 275.6 582.0 312.4 585.0 277.6 585.0 301.4 586.5 284.7 587.5 289.2 589.0 269.6 590.0 299.4 593.0 258.6 594.0 293.4 596.0 257.2 597.0 307.4 598.0 271.6 599.2 294.1 601.0 258.6 601.0 303.4 604.0 259.6 605.0 287.4 606.0 253.6 607.5 281.8 608.6 245.6 609.0 279.4 611.4 250.6 613.0 295.4 614.0 261.6 615.0 276.1 616.0 237.6 617.0 281.4 618.0 230.2 618.7 277.2 620.0 251.6 622.0 300.4 623.0 261.6 625.0 285.4 626.0 258.6 628.0 303.4 629.0 242.6 632.0 287.4 633.0 230.6 636.0 295.4 636.4 229.0 637.9 281.7 639.0 261.6 639.0 283.4 640.8 262.6 642.4 327.4 643.0 259.6 645.0 285.4 646.6 241.6 648.1 287.5 650.0 249.6 650.0 295.4 652.0 251.6 654.0 305.4 654.6 237.6 655.6 291.8 657.0 261.6 657.0 287.4 660.0 243.2 661.0 307.4 663.0 265.6 665.0 309.4 666.0 258.6 668.0 313.4 669.0 271.6 671.0 329.4 674.0 253.2 674.0 305.4 677.0 261.6 677.0 297.4 679.3 266.9 681.0 309.4 682.0 254.6 683.1 295.3 684.4 248.6 685.0 287.4 687.0 267.6 688.3 302.4 689.0 270.6 689.0 311.4 692.0 292.6 693.0 317.4 695.0 304.6 697.0 328.4 698.0 305.6 700.0 328.4 702.0 291.6 703.0 316.4 705.0 306.6 707.0 341.4 708.0 324.6 711.0 345.4 712.0 330.6 713.8 351.1 715.0 346.6 715.0 356.4 715.6 362.9 715.1 361.5 716.5 362.3 716.0 360.7 717.1 362.6 716.6 361.6 717.5 371.9 717.6 381.5 717.8 379.1 717.6 367.9 719.2 357.9 718.4 356.2 719.3 359.5 719.3 362.0 720.6 365.2 720.2 367.4 720.9 368.7 720.5 368.7 721.6 369.9 721.4 369.5 722.7 370.1 722.4 369.3 723.7 371.2 722.7 370.4 723.9 368.8 723.7 366.5 724.9 365.1 724.4 363.3 725.2 363.3 725.0 362.0 726.2 362.0 725.6 359.8 727.1 358.9 726.1 357.4 727.6 359.4 727.1 358.3 728.5 359.0 728.0 357.6 729.4 360.0 728.8 358.9 729.7 360.3 729.5 362.1 730.9 365.5 730.4 367.5 731.7 370.4 730.6 370.3 732.1 374.2 731.9 376.4 732.8 379.4 732.8 381.5 733.0 381.5 733.4 381.5 734.0 381.5 734.3 381.4 734.8 381.5 735.2 381.4 735.8 381.5 736.1 381.5 736.6 381.5 737.0 381.4 737.6 381.5 737.9 381.4 738.5 381.5 738.8 381.4 739.4 381.5 739.7 381.5 740.3 381.5 740.6 381.5 741.1 381.5 741.5 381.4 742.1 381.5 742.4 381.4 743.0 381.5 743.3 381.4 743.8 381.5 744.2 381.4 744.7 381.5 745.1 381.5 745.4 381.5 745.3 377.0 746.4 370.0 746.0 362.1 747.1 361.6 746.3 360.7 747.7 362.5 747.3 359.3 748.4 360.7 747.8 362.1 749.3 365.3 748.8 366.4 750.0 370.3 749.3 370.4 750.3 373.7 750.3 377.2 751.0 381.3 751.0 381.5 751.5 381.5 751.8 381.5 752.4 381.5 752.8 381.4 753.3 381.5 753.6 381.5 754.2 381.5 754.6 381.4 755.1 381.5 755.4 381.4 756.0 381.5 756.3 381.4 756.6 381.5 756.5 377.1 757.9 371.6 757.1 364.7 758.4 365.1 757.6 363.1 758.9 364.7 758.7 361.8 760.1 362.2 759.2 361.6 760.5 361.1 760.2 358.5 761.2 359.3 761.0 358.0 761.6 358.6 761.4 358.4 762.5 362.2 762.1 362.0 763.5 363.3 762.8 363.2 764.2 370.8 763.7 376.9 764.4 381.5 764.5 381.4 765.0 381.5 765.4 381.5 765.9 381.5 766.2 381.4 766.8 381.5 767.2 381.4 767.7 381.5 768.0 381.5 768.6 381.5 769.0 381.5 769.5 381.5 769.8 381.4 770.4 381.5 770.8 381.4 771.3 381.5 771.6 381.4 772.2 381.5 772.6 381.5 773.1 381.5 773.4 381.4 773.8 381.5 773.8 380.2 774.6 377.0 774.3 373.6 775.5 370.6 775.2 368.7 776.2 368.1 775.6 364.3 777.2 362.7 776.7 359.1 777.6 358.0 777.2 357.9 778.4 360.0 777.8 359.5 779.4 362.5 778.7 361.6 779.7 361.4 779.3 357.2 780.5 357.0 780.1 352.0 781.4 351.8 780.8 351.7 782.1 357.6 781.7 359.2 782.8 362.4 782.3 363.3 783.2 365.4 783.2 368.2 784.2 372.3 783.8 374.8 784.7 375.8 784.4 375.1 785.8 374.3 785.1 373.1 786.7 372.9 785.7 372.2 787.0 374.0 786.6 375.9 787.7 378.8 787.8 380.9 788.0 381.5 788.3 380.6 788.9 379.8 789.1 378.6 790.0 378.0 789.5 377.6 790.4 374.9 790.0 370.9 791.3 368.0 790.9 362.8 792.0 363.3 791.5 358.2 792.8 355.2 792.3 346.4 793.5 343.2 793.1 342.0 794.2 340.4 793.9 335.1 795.0 333.4 794.3 331.3 795.3 334.8 794.9 335.1 796.5 341.0 796.2 342.3 797.1 343.8 796.5 345.0 797.9 351.2 797.3 353.0 798.9 358.8 798.4 361.6 799.3 363.2 798.7 365.1 799.9 369.5 799.7 371.4 800.8 375.3 800.7 378.5 801.4 381.5 801.4 380.7 802.3 376.3 801.9 371.3 803.3 367.3 802.9 363.3 803.8 363.9 803.0 358.4 804.3 357.6 803.9 355.3 804.8 357.2 804.6 360.8 805.7 366.7 805.2 368.7 806.2 370.5 805.9 373.3 807.1 377.7 807.1 381.1 807.3 380.6 807.2 375.7 808.4 371.7 808.1 368.7 808.9 369.2 808.6 367.6 809.9 367.8 809.7 366.6 810.7 366.9 809.9 366.1 811.4 367.1 810.9 364.8 812.1 365.4 811.8 365.1 812.6 367.1 812.2 367.2 813.5 370.2 812.9 371.2 814.1 372.2 813.4 373.0 814.9 376.0 814.6 377.6 815.5 380.2 815.5 381.1 816.2 377.7 815.9 370.5 817.2 364.3 816.5 356.6 817.8 354.4 817.1 350.9 818.3 350.0 818.0 344.2 819.1 342.0 818.6 342.1 819.8 346.2 819.2 345.3 820.8 349.2 820.0 349.1 821.0 353.1 820.9 356.9 822.2 363.2 821.9 368.2 823.2 374.8 822.3 375.8 823.3 376.9 823.2 378.2 824.0 379.8 824.3 381.1 824.5 381.5 824.7 381.4 825.3 381.5 825.7 381.4 826.2 381.5 826.6 381.4 827.1 381.5 827.4 381.4 828.0 381.5 828.0 381.5 828.7 376.1 828.3 368.8 829.6 363.3 828.7 362.1 830.3 362.5 830.0 359.7 831.0 360.8 830.1 359.8 831.5 361.2 831.0 361.3 832.6 363.9 831.9 365.1 832.9 366.2 832.3 363.3 833.7 362.6 833.6 359.7 834.5 359.8 833.8 359.5 835.3 358.6 834.7 355.4 835.9 354.8 835.4 350.8 836.9 352.0 836.2 350.0 837.4 352.2 837.0 353.0 838.1 356.9 837.8 356.4 839.2 359.8 838.1 358.1 839.5 356.2 839.0 349.1 840.7 346.0 840.2 339.8 841.4 336.7 840.5 334.9 841.8 339.6 841.7 341.6 842.9 344.8 842.5 345.9 843.5 349.1 842.9 349.0 844.3 357.9 843.7 360.4 845.0 367.5 844.4 372.6 845.7 378.2 845.7 381.5 846.0 381.2 846.2 380.1 847.1 379.3 847.0 377.8 847.8 377.6 847.6 377.1 848.5 377.2 848.2 376.1 849.4 376.2 849.2 375.8 849.8 376.8 849.7 377.9 850.5 379.4 850.9 380.7 851.1 381.5 851.3 381.4 851.8 381.5 852.2 381.4 852.8 381.5 853.1 381.4 853.7 381.5 854.0 381.4 854.6 381.5 854.6 381.5 855.1 377.6 854.9 371.2 856.2 366.0 855.8 361.6 856.9 362.6 856.4 360.8 857.4 362.2 857.2 362.2 858.3 362.4 857.9 363.1 858.9 365.1 858.5 364.9 859.8 367.8 859.3 367.8 860.6 368.7 859.9 370.9 861.4 374.8 861.1 377.4 861.8 380.6 861.7 381.1 862.3 380.5 862.5 379.4 863.3 378.7 863.2 377.5 863.8 377.6 863.7 373.9 864.6 371.4 864.5 366.8 865.5 363.7 865.1 363.3 866.2 362.7 865.8 359.0 866.9 358.1 866.2 356.2 867.5 358.4 867.0 358.6 868.5 362.1 868.0 361.6 868.9 363.3 868.4 366.6 869.7 372.2 869.6 376.0 870.4 380.9 870.3 381.5 870.7 381.5 871.1 381.4 871.6 381.5 872.0 381.5 872.5 381.5 872.5 381.2 873.1 379.6 873.0 377.2 874.1 375.8 874.0 373.4 875.3 372.6 874.8 370.4 875.8 370.7 875.1 368.4 876.7 368.2 876.3 365.0 877.2 365.1 876.5 363.5 878.0 364.1 877.6 360.4 878.6 361.1 878.5 357.0 879.5 357.1 878.9 356.3 880.1 361.8 879.7 364.6 880.8 369.7 880.7 372.2 881.3 372.8 881.2 375.6 882.1 379.4 882.1 381.1 882.6 378.8 882.6 372.2 883.8 366.7 883.1 359.5 884.6 357.1 883.7 356.1 885.0 358.2 884.7 357.3 885.9 359.1 885.2 358.0 886.6 362.1 886.0 366.5 887.5 372.9 887.1 378.6 887.6 381.5 887.8 381.3 888.3 381.4 888.7 381.2 889.3 381.2 889.2 381.1 890.0 377.1 889.4 370.4 890.6 371.0 890.1 373.1 891.4 376.4 891.3 378.7 891.9 381.1 891.8 380.9 892.5 380.1 892.5 379.0 893.3 378.4 893.2 377.6 894.0 377.0 893.9 372.8 895.0 369.6 894.6 365.4 895.8 363.3 894.9 362.6 896.4 362.6 896.1 360.9 897.2 362.5 896.7 360.7 897.5 360.9 897.4 360.0 898.5 361.4 898.3 360.1 899.2 361.6 898.5 362.5 900.1 367.4 899.5 370.7 900.8 374.0 899.9 373.4 901.4 372.2 900.8 368.9 901.8 368.7 901.2 369.4 902.5 373.4 902.4 376.3 903.2 379.9 903.3 381.5 903.6 381.5 904.0 381.4 904.5 381.5 904.8 381.4 905.4 381.5 905.7 381.4 906.0 381.5 906.1 377.6 907.2 372.3 906.8 364.2 908.0 359.8 907.4 356.2 908.3 355.4 908.1 351.0 909.3 351.6 908.8 346.7 909.8 346.4 909.2 346.6 910.9 348.5 910.4 346.6 911.7 349.4 911.2 347.7 912.1 348.2 911.5 348.7 913.1 353.0 912.7 353.7 914.1 356.9 913.3 356.2 914.1 364.2 913.9 371.8 914.9 380.0 914.8 381.5 915.3 381.5 915.6 381.4 916.2 381.5 916.5 381.4 917.1 381.5 917.5 381.5 917.6 381.5 917.8 379.2 918.7 377.2 918.1 376.7 919.0 376.8 918.9 376.0 920.2 376.1 919.9 375.2 920.9 375.4 920.7 374.7 921.4 374.9 921.0 374.8 922.4 375.4 922.2 375.1 923.4 375.9 923.0 375.3 924.0 375.8 923.5 375.3 924.6 376.1 924.2 376.0 925.4 376.5 925.3 376.7 926.1 377.2 925.8 377.9 926.7 379.2 926.9 380.0 927.4 381.1 927.3 380.1 928.4 374.6 927.8 369.6 928.6 370.2 928.5 370.7 929.6 372.2 929.4 372.9 930.4 374.0 929.6 374.2 930.8 376.3 930.8 377.7 931.6 379.8 931.7 381.1 932.1 380.2 932.2 375.7 933.3 372.2 932.9 367.7 934.1 365.1 933.2 364.7 934.4 364.3 934.1 362.3 935.4 362.4 934.6 363.2 936.0 367.5 935.6 368.2 936.5 370.4 935.9 371.4 937.4 375.4 937.2 378.8 937.7 381.5 937.7 381.4 938.3 381.5 938.6 381.5 939.2 381.5 939.5 381.4 940.1 381.5 940.4 381.4 941.0 381.5 941.3 381.4 941.8 381.5 942.2 381.4 942.7 381.5 943.1 381.4 943.6 381.5 944.0 381.4 944.5 381.5 944.9 381.4 945.5 381.5 945.4 381.5 946.2 377.6 945.9 372.8 947.3 369.3 946.6 366.9 947.4 366.2 947.1 361.6 948.7 360.6 947.8 358.9 949.0 360.9 948.5 362.4 950.0 365.8 949.3 366.9 950.3 368.5 949.8 372.3 951.1 376.8 951.1 380.6 951.4 381.5 951.6 381.4 952.2 381.5 952.5 381.5 953.1 381.5 953.4 381.4 954.0 381.5 953.9 381.5 954.8 378.1 954.4 373.8 955.5 370.0 955.2 368.7 956.2 369.1 955.6 366.9 957.2 367.2 956.7 365.7 957.6 366.0 957.1 364.4 958.2 365.2 958.3 363.9 959.3 363.5 958.6 363.3 959.9 366.2 959.5 366.8 960.8 370.6 960.1 370.4 961.1 373.0 960.8 375.9 961.7 379.9 961.7 381.5 962.1 381.5 962.4 381.4 963.0 381.5 963.3 381.4 963.8 381.5 963.8 381.0 964.4 379.2 964.6 376.7 965.5 375.8 964.9 375.9 965.8 376.3 965.9 376.4 966.8 376.7 966.3 376.9 967.3 378.7 967.3 380.0 967.9 381.5 967.8 381.4 968.4 381.5 968.7 381.5 969.3 381.5 969.6 381.5 969.8 380.6 969.5 372.8 971.0 366.1 970.5 360.7 971.6 362.2 971.0 360.4 972.5 362.7 971.9 362.9 973.1 363.3 972.3 364.1 973.7 367.8 973.4 369.1 974.8 373.1 973.9 374.0 975.2 372.6 974.8 367.5 975.8 365.1 975.1 363.3 976.6 367.8 976.1 372.8 977.1 379.0 977.1 381.5 977.4 381.5 977.7 381.5 978.3 381.5 978.6 381.4 979.2 381.5 979.6 381.4 980.1 381.5 980.5 381.4 981.0 381.5 981.4 381.4 981.6 381.5 981.2 373.6 982.8 362.8 982.6 349.0 983.0 348.2 982.6 347.4 984.1 348.5 983.6 346.3 984.9 347.6 984.4 346.9 985.6 347.3 985.0 345.8 986.2 349.0 985.8 346.8 987.1 348.6 986.6 348.2 987.7 362.7 987.4 378.1 987.8 381.1 987.8 374.0 988.9 366.1 988.6 356.7 989.7 354.4 989.2 351.9 990.4 351.1 990.0 347.0 990.7 347.3 990.4 347.9 991.6 350.7 991.5 350.0 992.8 353.6 992.0 352.7 993.0 354.7 992.6 352.5 993.9 354.9 993.8 354.4 994.6 355.9 994.1 357.5 995.3 364.5 994.7 367.3 996.4 372.2 995.2 372.0 996.6 369.6 996.2 365.5 997.7 363.0 997.3 359.8 998.2 360.5 997.8 360.7 999.0 362.6 998.6 361.5 999.6 363.3 999.1 363.8 1000.5 369.2 1000.0 372.6 1001.1 377.8 1001.1 381.5 1001.3 379.2 1001.4 367.0 1002.7 356.1 1002.1 349.1 1003.1 349.7 1002.7 347.5 1004.1 349.6 1003.4 347.0 1004.4 348.2 1003.9 349.4 1005.1 357.5 1004.9 360.4 1005.8 365.1 1005.2 362.3 1006.6 359.5 1006.3 353.1 1007.3 349.5 1006.7 345.6 1007.8 347.6 1007.6 348.9 1008.6 352.8 1008.4 354.4 1009.2 357.0 1008.9 360.3 1010.1 366.4 1009.9 371.4 1011.0 375.8 1010.4 375.4 1011.4 374.5 1011.1 372.2 1012.3 371.3 1011.9 369.1 1012.9 368.7 1012.6 363.1 1013.7 357.4 1013.5 346.8 1014.8 339.4 1014.1 334.9 1015.1 334.9 1014.7 332.7 1016.2 335.0 1015.6 333.1 1016.6 335.0 1015.9 335.0 1017.3 336.8 1017.1 336.7 1018.2 338.4 1017.5 339.5 1018.6 345.2 1018.5 346.7 1019.7 352.5 1018.8 354.4 1020.2 357.2 1019.6 359.7 1020.9 366.0 1020.0 366.9 1021.5 366.0 1020.8 362.9 1022.4 362.2 1021.8 358.8 1023.0 359.8 1022.5 356.4 1023.6 355.3 1023.5 350.5 1024.8 349.9 1023.6 349.1 1025.1 348.3 1024.8 343.2 1025.8 340.9 1025.6 336.6 1026.8 335.9 1026.2 334.0 1027.1 339.2 1026.8 341.9 1028.3 349.0 1028.0 352.2 1028.6 354.4 1028.3 357.4 1029.5 363.2 1029.1 367.6 1030.4 372.9 1030.1 377.6 1030.7 377.8 1030.6 371.5 1031.9 366.0 1031.2 359.1 1032.8 354.4 1032.0 353.8 1033.0 353.0 1032.7 349.1 1034.2 349.4 1033.6 344.0 1035.0 345.5 1034.5 342.0 1035.6 343.6 1035.1 346.8 1036.3 353.1 1035.8 355.9 1037.2 361.6 1036.2 361.8 1037.6 366.1 1037.3 367.9 1038.7 371.8 1038.0 374.0 1038.9 374.3 1038.7 374.0 1040.0 374.7 1039.4 374.5 1040.8 375.3 1040.5 375.4 1041.5 375.8 1040.7 375.5 1042.0 376.8 1041.8 376.5 1043.0 377.4 1042.6 377.6 1043.3 377.4 1043.3 376.3 1044.4 375.9 1043.8 374.5 1045.5 373.8 1045.0 372.6 1045.8 372.2 1045.3 371.7 1046.8 371.8 1046.4 370.7 1047.6 371.6 1047.2 370.4 1048.5 370.4 1047.6 370.5 1048.7 373.7 1048.4 375.4 1049.5 378.4 1049.7 380.3 1050.0 381.5 1050.2 381.4 1050.7 381.5 1051.1 381.4 1051.7 381.5 1052.0 381.4 1052.6 381.5 1052.6 381.5 1053.2 378.7 1053.2 373.8 1054.5 370.2 1054.0 364.4 1054.8 363.3 1054.3 360.8 1055.7 357.9 1055.3 351.7 1056.5 350.5 1055.7 349.1 1057.0 348.1 1056.7 342.1 1057.8 338.7 1057.5 332.4 1058.3 333.1 1058.0 334.4 1058.0 334.6 1059.0 314.6 1060.0 335.4 1062.0 322.6 1064.0 336.4 1065.0 309.6 1066.6 329.6 1068.0 296.6 1068.0 333.4 1070.0 282.6 1071.0 308.4 1073.0 270.6 1075.0 302.4 1075.6 276.6 1076.7 296.2 1078.0 259.6 1080.0 312.4 1081.0 280.6 1082.7 316.4 1084.0 302.6 1084.0 328.4 1087.0 308.6 1089.0 338.4 1090.0 292.6 1091.4 318.2 1093.0 282.6 1094.0 339.4 1095.6 304.6 1096.8 328.0 1098.4 292.6 1100.0 343.4 1101.0 302.6 1104.0 312.4 1105.0 280.6 1106.5 309.8 1108.0 266.6 1109.0 315.4 1111.0 257.6 1113.0 304.4 1113.6 262.6 1115.0 291.8 1116.0 253.6 1118.0 298.4 1118.4 266.6 1120.3 293.9 1121.6 264.6 1123.0 324.4 1124.0 250.6 1124.8 311.1 1126.0 268.6 1128.0 313.4 1129.0 280.6 1130.1 310.6 1130.8 267.1 1131.9 292.7 1133.0 278.0 1133.0 307.4 1136.2 292.0 1138.0 322.4 1139.3 309.1 1140.0 348.4 1140.9 321.6 1141.8 353.6 1142.0 366.4 1142.4 301.6 1143.0 241.6 1143.6 236.6 1144.0 338.4 1146.0 252.6 1148.0 291.4 1149.0 207.6 1150.1 287.4 1151.6 256.6 1152.0 285.4 1154.0 254.6 1154.9 291.6 1156.0 260.6 1157.0 301.4 1158.0 245.6 1158.9 310.3 1160.0 256.6 1161.0 337.4 1163.0 246.6 1165.0 281.4 1165.6 212.6 1167.2 267.2 1168.4 207.0 1170.0 273.4 1171.0 224.6 1172.6 282.8 1174.0 212.2 1175.0 293.4 1177.0 230.6 1179.4 296.4 1180.0 238.6 1183.0 283.4 1183.4 202.6 1184.4 258.7 1186.0 240.6 1187.0 295.4 1189.0 203.6 1190.4 264.4 1192.0 222.6 1192.0 303.4 1195.4 210.6 1196.0 277.4 1198.0 224.6 1200.0 293.4 1200.6 195.6 1201.7 277.2 1203.0 228.6 1204.0 299.4 1206.0 252.6 1207.6 309.4 1208.6 242.6 1209.7 298.8 1210.6 199.6 1211.0 293.4 1213.0 216.6 1213.9 279.5 1215.4 163.6 1216.0 289.4 1218.0 222.6 1218.8 293.3 1220.0 236.6 1220.0 301.4 1222.0 191.6 1224.0 313.4 1224.4 256.6 1224.5 316.4 1225.6 317.3 1225.0 329.7 1226.4 341.4 1225.6 350.2 1227.0 361.3 1226.0 361.8 1227.8 355.5 1227.0 347.2 1228.7 342.5 1227.6 336.7 1228.7 335.5 1227.7 329.0 1229.6 320.4 1228.8 314.9 1230.4 309.0 1229.2 305.6 1230.6 305.2 1230.1 307.8 1231.5 311.1 1231.0 309.8 1232.6 314.3 1231.6 316.2 1233.3 318.2 1232.2 318.4 1233.9 320.8 1232.9 318.3 1234.4 321.6 1233.6 323.2 1235.1 325.4 1234.5 326.8 1236.0 329.8 1235.0 328.9 1236.6 331.7 1235.7 335.3 1237.2 332.8 1236.5 337.0 1237.8 339.2 1237.2 342.6 1238.8 342.7 1237.9 346.2 1239.8 350.8 1238.9 351.9 1240.6 356.3 1239.5 356.2 1240.8 360.6 1240.3 368.4 1241.3 375.9 1241.3 381.5 1241.4 381.5 1241.8 381.5 1242.2 381.5 1242.2 381.5 1243.0 372.0 1242.3 361.3 1243.8 354.2 1242.8 355.5 1244.6 359.7 1243.8 365.5 1245.0 370.5 1244.8 375.5 1245.5 380.3 1245.5 381.5 1245.8 381.5 1246.2 381.5 1246.5 381.5 1246.5 380.2 1247.2 375.8 1247.0 371.5 1248.5 366.0 1247.4 361.8 1249.3 356.1 1248.4 351.2 1249.4 353.2 1248.6 352.0 1250.3 353.3 1249.6 353.0 1251.4 354.4 1250.5 354.1 1252.3 355.7 1251.3 356.3 1252.4 356.8 1251.6 360.4 1253.2 367.9 1252.8 375.8 1253.3 381.5 1253.3 378.3 1254.6 365.3 1253.8 351.3 1255.0 341.8 1254.2 340.5 1255.8 337.8 1254.8 334.5 1256.5 333.2 1255.7 331.8 1257.4 327.5 1256.1 326.2 1257.7 324.5 1256.9 322.6 1258.6 324.0 1257.4 327.2 1259.4 328.8 1258.5 329.8 1260.1 333.4 1259.4 333.1 1260.6 333.7 1259.5 334.4 1261.1 340.3 1260.4 344.0 1262.0 346.1 1261.4 349.9 1262.4 353.2 1261.4 351.1 1263.0 348.3 1262.1 347.9 1264.2 343.8 1262.9 340.3 1265.0 339.7 1264.0 340.1"/>
</g>
<g stroke="#000" stroke-width="3.125" stroke-dasharray="11.5625 5" fill="none" clip-path="url(#ax)">
<path d="M210.5 383.5V54.0"/>
<path d="M747.5 383.5V54.0"/>
</g>
<g stroke="#000" stroke-width="1.667" fill="none">
<path d="M188 383v7.29"/>
<path d="M277 383v7.29"/>
<path d="M366 383v7.29"/>
<path d="M456 383v7.29"/>
<path d="M545 383v7.29"/>
<path d="M635 383v7.29"/>
<path d="M724 383v7.29"/>
<path d="M813 383v7.29"/>
<path d="M903 383v7.29"/>
<path d="M992 383v7.29"/>
<path d="M1082 383v7.29"/>
<path d="M1171 383v7.29"/>
<path d="M1261 383v7.29"/>
<path d="M1350 383v7.29"/>
<path d="M188 383h-7.29"/>
<path d="M1350 383h7.29"/>
<path d="M188 300h-7.29"/>
<path d="M1350 300h7.29"/>
<path d="M188 218h-7.29"/>
<path d="M1350 218h7.29"/>
<path d="M188 136h-7.29"/>
<path d="M1350 136h7.29"/>
<path d="M188 54h-7.29"/>
<path d="M1350 54h7.29"/>
</g>
<rect x="188" y="54" width="1162" height="329" fill="none" stroke="#000" stroke-width="1.667" stroke-linejoin="miter"/>
<g fill="#000">
<text x="187.50" y="413.0" text-anchor="middle">22</text>
<text x="276.92" y="413.0" text-anchor="middle">2</text>
<text x="366.35" y="413.0" text-anchor="middle">6</text>
<text x="455.77" y="413.0" text-anchor="middle">10</text>
<text x="545.19" y="413.0" text-anchor="middle">14</text>
<text x="634.62" y="413.0" text-anchor="middle">18</text>
<text x="724.04" y="413.0" text-anchor="middle">22</text>
<text x="813.46" y="413.0" text-anchor="middle">2</text>
<text x="902.88" y="413.0" text-anchor="middle">6</text>
<text x="992.31" y="413.0" text-anchor="middle">10</text>
<text x="1081.73" y="413.0" text-anchor="middle">14</text>
<text x="1171.15" y="413.0" text-anchor="middle">18</text>
<text x="1260.58" y="413.0" text-anchor="middle">22</text>
<text x="1350.00" y="413.0" text-anchor="middle">2</text>
<text x="172.92" y="390.80" text-anchor="end">0.00</text>
<text x="172.92" y="308.68" text-anchor="end">2.25</text>
<text x="172.92" y="226.55" text-anchor="end">4.50</text>
<text x="172.92" y="144.43" text-anchor="end">6.75</text>
<text x="172.92" y="62.30" text-anchor="end">9.00</text>
<text x="1364.58" y="390.80" text-anchor="start">0.0</text>
<text x="1364.58" y="308.68" text-anchor="start">5.0</text>
<text x="1364.58" y="226.55" text-anchor="start">10.1</text>
<text x="1364.58" y="144.43" text-anchor="start">15.1</text>
<text x="1364.58" y="62.30" text-anchor="start">20.1</text>
<text x="768.75" y="440.6" text-anchor="middle" xml:space="preserve" style="white-space:pre">11/18/25-11/20/25  Hours(UTC)</text>
<text transform="translate(116 221.25) rotate(-90)" text-anchor="middle">m/s</text>
<text transform="translate(1436.5 221.95) rotate(-90)" text-anchor="middle">mph</text>
</g>
<g fill="#333" font-size="24.7px">
<text x="229.0" y="96.2">11/19</text>
<text x="766.0" y="96.2">11/20</text>
</g>
<rect x="188.3" y="11.25" width="703.6" height="35.65" rx="4.17" ry="4.17" fill="#fff" fill-opacity="0.8" stroke="#ccc" stroke-opacity="0.8" stroke-width="2.08"/>
<path d="M195 28.5H240" stroke="#bfbf00" stroke-opacity="0.5" stroke-width="3.125" fill="none"/>
<text x="254.5" y="35.1">10m Wind Speed (5s)</text>
<path d="M519 28.5H564" stroke="#0000ff" stroke-width="3.125" fill="none"/>
<text x="578" y="35.1">2-minute Avg</text>
<rect x="759.1" y="20.8" width="41.7" height="14.2" fill="#d3d3d3" fill-opacity="0.5" stroke="#d3d3d3" stroke-opacity="0.5" stroke-width="2.08"/>
<text x="817.5" y="35.1">NIGHT</text>
</svg>
</body></html>
